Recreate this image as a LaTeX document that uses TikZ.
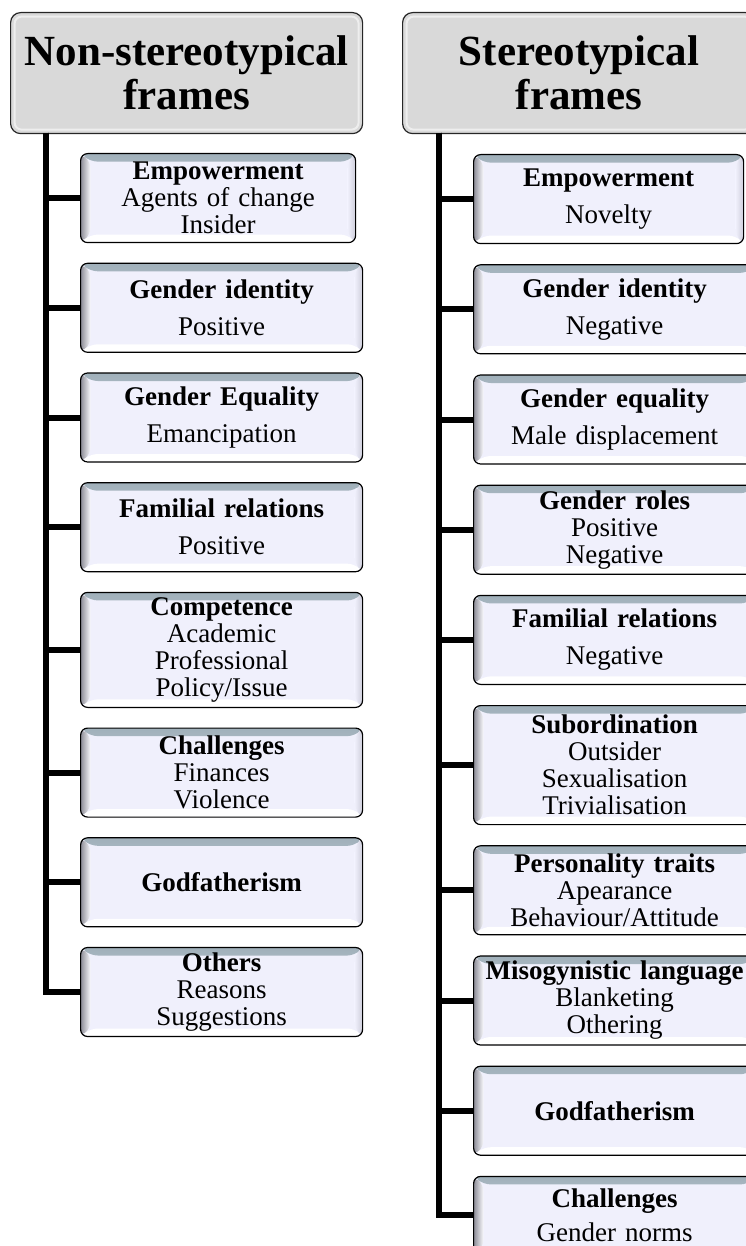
\documentclass[tikz,border=0pt]{standalone}
\usepackage{fontspec}
\setmainfont{Liberation Serif}
\usetikzlibrary{positioning,calc,backgrounds}

\definecolor{headgray}{RGB}{217,217,217}
\definecolor{boxface}{RGB}{240,240,252}
\definecolor{bevtop}{RGB}{160,176,186}
\definecolor{bevleft}{RGB}{140,140,150}
\definecolor{bevright}{RGB}{205,205,218}

\tikzset{
  framehead/.style={rectangle, rounded corners=10pt, draw=black!85, line width=1.2pt,
    fill=headgray, text width=#1, inner xsep=0pt, inner ysep=0pt, minimum height=121pt,
    align=center, font=\fontsize{43}{44}\selectfont\bfseries,
    path picture={
      \draw[white!55!headgray, line width=2pt, rounded corners=7pt]
        ([shift={(4pt,4pt)}]path picture bounding box.south west) rectangle
        ([shift={(-4pt,-4pt)}]path picture bounding box.north east);
    }},
  framebox/.style={rectangle, rounded corners=7pt, draw=black, line width=1.2pt,
    fill=boxface, text width=282pt, inner xsep=0pt, inner ysep=0pt, minimum height=89pt,
    align=center, font=\fontsize{27}{27}\selectfont,
    path picture={
      \shade[top color=bevtop, bottom color=bevtop!20!boxface]
        (path picture bounding box.north west) -- (path picture bounding box.north east)
        -- ([shift={(-8pt,-8pt)}]path picture bounding box.north east)
        -- ([shift={(10pt,-8pt)}]path picture bounding box.north west) -- cycle;
      \shade[left color=bevleft, right color=white!70!boxface]
        (path picture bounding box.north west) -- ([shift={(10pt,-8pt)}]path picture bounding box.north west)
        -- ([shift={(10pt,8pt)}]path picture bounding box.south west)
        -- (path picture bounding box.south west) -- cycle;
      \fill[white]
        (path picture bounding box.south west) -- ([shift={(10pt,8pt)}]path picture bounding box.south west)
        -- ([shift={(-8pt,8pt)}]path picture bounding box.south east)
        -- (path picture bounding box.south east) -- cycle;
      \shade[left color=boxface, right color=bevright]
        (path picture bounding box.north east) -- ([shift={(-8pt,-8pt)}]path picture bounding box.north east)
        -- ([shift={(-8pt,8pt)}]path picture bounding box.south east)
        -- (path picture bounding box.south east) -- cycle;
    }},
  spine/.style={line width=6pt, black}
}

\begin{document}
\begin{tikzpicture}[x=1pt,y=1pt]
\useasboundingbox (0,0) rectangle (745,-1246);

\node[framehead=352pt, anchor=north west] at (10,-12) (nsHead) {Non-stereotypical\\frames};
\node[framehead=353pt, anchor=north west] at (402,-12) (sHead) {Stereotypical\\frames};

\coordinate (nsRoot) at (46,-133);
\coordinate (sRoot) at (439,-133);

\node[framebox, text width=275pt, anchor=north west] at (80,-153) (nsEmp) {\textbf{Empowerment}\\Agents of change\\Insider};
\node[framebox, below=19.5pt of nsEmp.south west, anchor=north west] (nsGid) {\textbf{Gender identity}\\[10pt]Positive};
\node[framebox, below=19.5pt of nsGid] (nsGeq) {\textbf{Gender Equality}\\[10pt]Emancipation};
\node[framebox, below=19.5pt of nsGeq] (nsFam) {\textbf{Familial relations}\\[10pt]Positive};
\node[framebox, minimum height=115pt, below=19.5pt of nsFam] (nsCom) {\textbf{Competence}\\Academic\\Professional\\Policy/Issue};
\node[framebox, below=19.5pt of nsCom] (nsCha) {\textbf{Challenges}\\Finances\\Violence};
\node[framebox, below=19.5pt of nsCha] (nsGod) {\textbf{Godfatherism}};
\node[framebox, below=19.5pt of nsGod] (nsOth) {\textbf{Others}\\Reasons\\Suggestions};

\node[framebox, text width=270pt, anchor=north west] at (473,-154) (sEmp) {\textbf{Empowerment}\\[10pt]Novelty};
\node[framebox, below=20pt of sEmp.south west, anchor=north west] (sGid) {\textbf{Gender identity}\\[10pt]Negative};
\node[framebox, below=20pt of sGid] (sGeq) {\textbf{Gender equality}\\[10pt]Male displacement};
\node[framebox, below=20pt of sGeq] (sRol) {\textbf{Gender roles}\\Positive\\Negative};
\node[framebox, below=20pt of sRol] (sFam) {\textbf{Familial relations}\\[10pt]Negative};
\node[framebox, minimum height=119pt, below=20pt of sFam] (sSub) {\textbf{Subordination}\\Outsider\\Sexualisation\\Trivialisation};
\node[framebox, below=20pt of sSub] (sPer) {\textbf{Personality traits}\\Apearance\\Behaviour/Attitude};
\node[framebox, below=20pt of sPer] (sMis) {\textbf{Misogynistic language}\\Blanketing\\Othering};
\node[framebox, below=20pt of sMis] (sGod) {\textbf{Godfatherism}};
\node[framebox, minimum height=78pt, below=20pt of sGod] (sCha) {\textbf{Challenges}\\[7pt]Gender norms};

\draw[spine] (nsRoot) |- (nsEmp.west);
\draw[spine] (nsRoot) |- (nsGid.west);
\draw[spine] (nsRoot) |- (nsGeq.west);
\draw[spine] (nsRoot) |- (nsFam.west);
\draw[spine] (nsRoot) |- (nsCom.west);
\draw[spine] (nsRoot) |- (nsCha.west);
\draw[spine] (nsRoot) |- (nsGod.west);
\draw[spine] (nsRoot) |- (nsOth.west);

\draw[spine] (sRoot) |- (sEmp.west);
\draw[spine] (sRoot) |- (sGid.west);
\draw[spine] (sRoot) |- (sGeq.west);
\draw[spine] (sRoot) |- (sRol.west);
\draw[spine] (sRoot) |- (sFam.west);
\draw[spine] (sRoot) |- (sSub.west);
\draw[spine] (sRoot) |- (sPer.west);
\draw[spine] (sRoot) |- (sMis.west);
\draw[spine] (sRoot) |- (sGod.west);
\draw[spine] (sRoot) |- (sCha.west);
\end{tikzpicture}
\end{document}
